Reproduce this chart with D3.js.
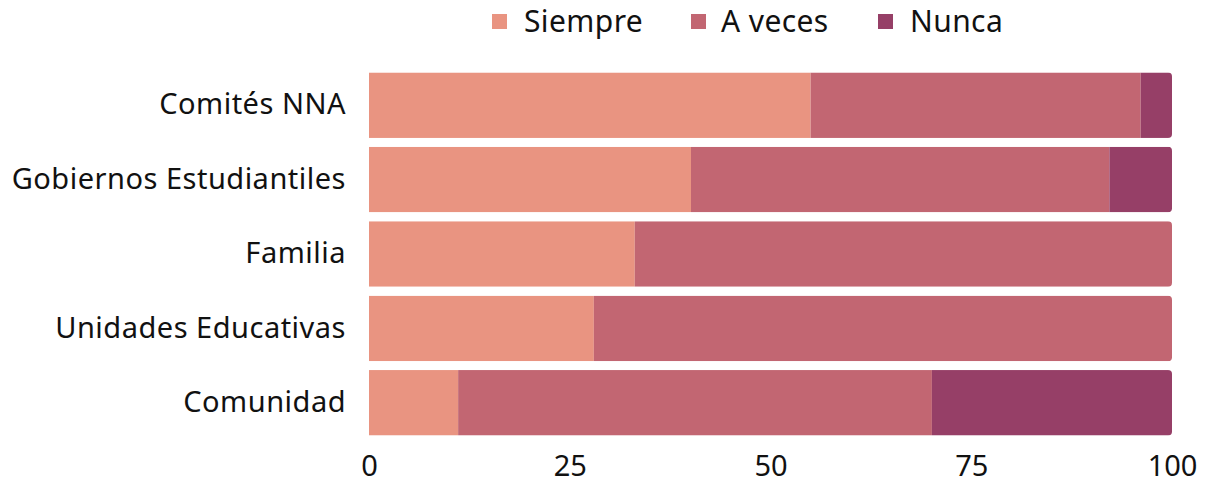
<!DOCTYPE html>
<html>
<head>
<meta charset="utf-8">
<script src="https://cdn.jsdelivr.net/npm/d3@7"></script>
<style>
  body { margin: 0; background: #fff; }
  svg text { font-family: "Noto Sans", sans-serif; fill: #111; }
</style>
</head>
<body>
<svg id="chart" width="1208" height="487"></svg>
<script>
const categories = ['Comités NNA', 'Gobiernos Estudiantiles', 'Familia', 'Unidades Educativas', 'Comunidad'];
const seriesNames = ['Siempre', 'A veces', 'Nunca'];
const siempre = [55.0, 40.1, 33.1, 28.0, 11.1];
const aveces = [41.1, 52.1, 66.9, 72.0, 59.0];
const nunca = [3.9, 7.8, 0, 0, 29.9];
const xTicks = [0, 25, 50, 75, 100];
const colors = ['#e99481', '#c26672', '#963f67'];

const svg = d3.select('#chart');
const left = 369, right = 1172;

const rows = categories.map((c, i) => ({ cat: c, Siempre: siempre[i], 'A veces': aveces[i], Nunca: nunca[i] }));
const stacked = d3.stack().keys(seriesNames)(rows);

const x = d3.scaleLinear().domain([0, 100]).range([left, right]);
const y = d3.scaleBand().domain(categories).range([68, 440]).paddingInner(0.12).paddingOuter(0.06);
const color = d3.scaleOrdinal().domain(seriesNames).range(colors);

// clip each row so only the right end is rounded
const defs = svg.append('defs');
categories.forEach((c, i) => {
  defs.append('clipPath').attr('id', 'clip' + i)
    .append('rect')
    .attr('x', x(0) - 10)
    .attr('y', y(c))
    .attr('width', x(100) - x(0) + 10)
    .attr('height', y.bandwidth())
    .attr('rx', 4);
});

stacked.forEach(s => {
  svg.append('g')
    .selectAll('rect')
    .data(s)
    .join('rect')
    .attr('clip-path', (d, i) => `url(#clip${i})`)
    .attr('fill', color(s.key))
    .attr('x', d => x(d[0]))
    .attr('y', d => y(d.data.cat))
    .attr('width', d => Math.max(0, x(d[1]) - x(d[0])))
    .attr('height', y.bandwidth());
});

// category labels
svg.append('g')
  .attr('transform', `translate(${left}, 0)`)
  .call(d3.axisLeft(y).tickSize(0).tickPadding(23))
  .call(g => g.select('.domain').remove())
  .selectAll('text')
  .style('font-size', '29px')
  .style('letter-spacing', '0.5px')
  .attr('fill', '#111');

// x axis
svg.append('g')
  .attr('transform', 'translate(0, 445)')
  .call(d3.axisBottom(x).tickValues(xTicks).tickSize(0).tickPadding(10))
  .call(g => g.select('.domain').remove())
  .selectAll('text')
  .style('font-size', '29px')
  .attr('fill', '#111');

// legend
const legendX = [492, 691, 878];
const legendTextX = [524, 721, 910];
const legend = svg.append('g');
seriesNames.forEach((name, i) => {
  legend.append('rect')
    .attr('x', legendX[i]).attr('y', 14)
    .attr('width', 15).attr('height', 15)
    .attr('fill', colors[i]);
  legend.append('text')
    .attr('x', legendTextX[i]).attr('y', 32)
    .style('font-size', '30px')
    .style('letter-spacing', '0.4px')
    .text(name);
});
</script>
</body>
</html>
